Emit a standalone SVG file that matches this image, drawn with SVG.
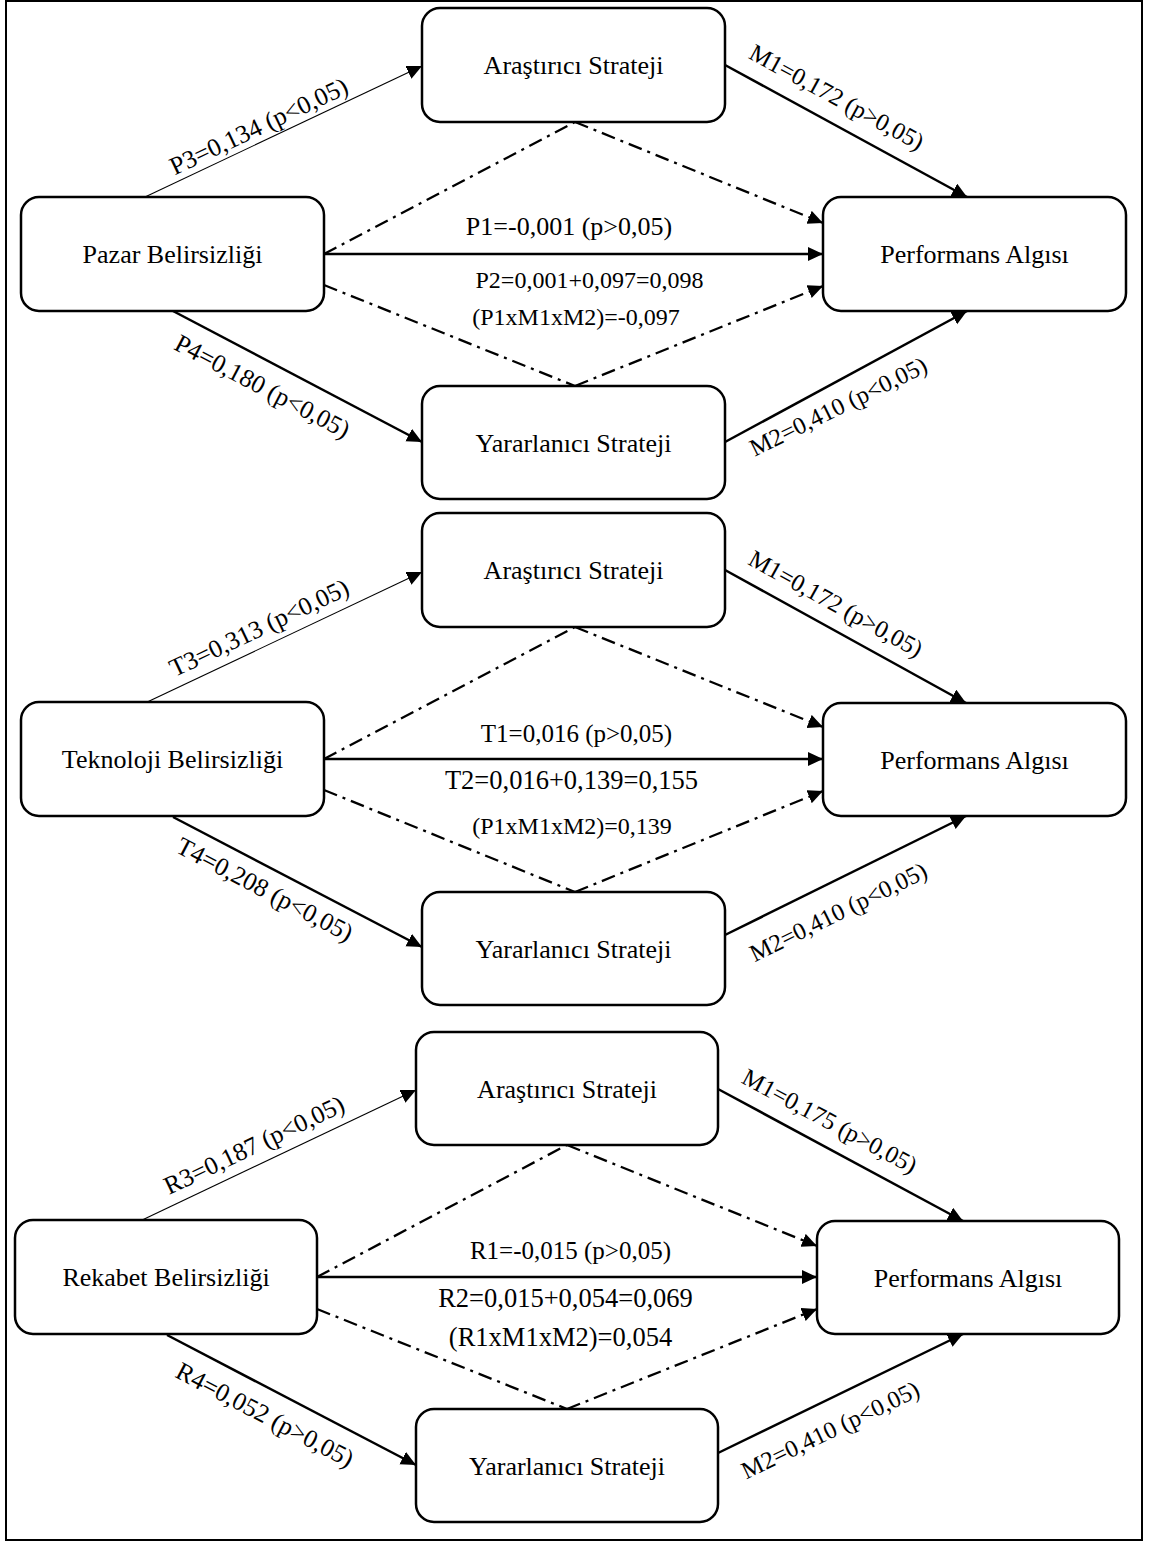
<svg xmlns="http://www.w3.org/2000/svg" width="1150" height="1544" viewBox="0 0 1150 1544">
<defs>
<marker id="ah" markerUnits="userSpaceOnUse" markerWidth="16" markerHeight="15" refX="15" refY="7" orient="auto">
<path d="M0,0 L15,7 L0,14 z" fill="#000"/>
</marker>
<style>
text{font-family:"Liberation Serif","Times New Roman",serif;fill:#000}
.node rect{fill:#fff;stroke:#000;stroke-width:2.5}
.nt{font-size:26px;text-anchor:middle}
.lb{text-anchor:middle}
.thin{stroke:#000;stroke-width:1.1;fill:none}
.thick{stroke:#000;stroke-width:2.5;fill:none}
.dd{stroke:#000;stroke-width:2.3;fill:none;stroke-dasharray:14 6 3 6}
</style>
</defs>
<rect x="6" y="1" width="1136" height="1539" fill="#fff" stroke="#000" stroke-width="2"/>

<g id="connectors">
<!-- section 1 -->
<line class="thin" x1="145" y1="197" x2="422" y2="66" marker-end="url(#ah)"/>
<line class="thick" x1="173" y1="311" x2="422" y2="442" marker-end="url(#ah)"/>
<line class="thick" x1="324" y1="254" x2="823" y2="254" marker-end="url(#ah)"/>
<line class="dd" x1="324" y1="254" x2="575" y2="122"/>
<line class="dd" x1="575" y1="122" x2="823" y2="223" marker-end="url(#ah)"/>
<line class="dd" x1="324" y1="285" x2="575" y2="386"/>
<line class="dd" x1="575" y1="386" x2="823" y2="286" marker-end="url(#ah)"/>
<line class="thick" x1="725" y1="65" x2="967" y2="197" marker-end="url(#ah)"/>
<line class="thick" x1="725" y1="442" x2="967" y2="311" marker-end="url(#ah)"/>
<!-- section 2 -->
<line class="thin" x1="143" y1="704" x2="422" y2="572" marker-end="url(#ah)"/>
<line class="thick" x1="173" y1="817" x2="422" y2="947" marker-end="url(#ah)"/>
<line class="thick" x1="324" y1="759" x2="823" y2="759" marker-end="url(#ah)"/>
<line class="dd" x1="324" y1="759" x2="575" y2="627"/>
<line class="dd" x1="575" y1="627" x2="823" y2="727" marker-end="url(#ah)"/>
<line class="dd" x1="324" y1="790" x2="575" y2="892"/>
<line class="dd" x1="575" y1="892" x2="823" y2="791" marker-end="url(#ah)"/>
<line class="thick" x1="725" y1="570" x2="966" y2="703" marker-end="url(#ah)"/>
<line class="thick" x1="725" y1="935" x2="966" y2="816" marker-end="url(#ah)"/>
<!-- section 3 -->
<line class="thin" x1="138" y1="1222" x2="416" y2="1090" marker-end="url(#ah)"/>
<line class="thick" x1="167" y1="1335" x2="416" y2="1465" marker-end="url(#ah)"/>
<line class="thick" x1="317" y1="1277" x2="817" y2="1277" marker-end="url(#ah)"/>
<line class="dd" x1="317" y1="1277" x2="567" y2="1145"/>
<line class="dd" x1="567" y1="1145" x2="817" y2="1246" marker-end="url(#ah)"/>
<line class="dd" x1="317" y1="1309" x2="567" y2="1409"/>
<line class="dd" x1="567" y1="1409" x2="817" y2="1309" marker-end="url(#ah)"/>
<line class="thick" x1="718" y1="1089" x2="963" y2="1221" marker-end="url(#ah)"/>
<line class="thick" x1="718" y1="1453" x2="963" y2="1334" marker-end="url(#ah)"/>

<!-- labels section 1 -->
<text class="lb" font-size="25.5" transform="rotate(-25.4 262.3 134)" x="262.3" y="134">P3=0,134 (p&lt;0,05)</text>
<text class="lb" font-size="25.5" transform="rotate(27.75 258.4 393.8)" x="258.4" y="393.8">P4=0,180 (p&lt;0,05)</text>
<text class="lb" font-size="24.5" transform="rotate(28.6 832.8 104.3)" x="832.8" y="104.3">M1=0,172 (p&gt;0,05)</text>
<text class="lb" font-size="24.5" transform="rotate(-26.2 841.9 413.9)" x="841.9" y="413.9">M2=0,410 (p&lt;0,05)</text>
<text class="lb" font-size="26" x="569" y="235">P1=-0,001 (p&gt;0,05)</text>
<text class="lb" font-size="24" x="589.5" y="288">P2=0,001+0,097=0,098</text>
<text class="lb" font-size="24" x="576" y="325">(P1xM1xM2)=-0,097</text>
<!-- labels section 2 -->
<text class="lb" font-size="25.5" transform="rotate(-25.4 262.8 635.5)" x="262.8" y="635.5">T3=0,313 (p&lt;0,05)</text>
<text class="lb" font-size="25.5" transform="rotate(27.7 260.9 896.8)" x="260.9" y="896.8">T4=0,208 (p&lt;0,05)</text>
<text class="lb" font-size="24.5" transform="rotate(29 831.8 610.8)" x="831.8" y="610.8">M1=0,172 (p&gt;0,05)</text>
<text class="lb" font-size="24.5" transform="rotate(-26.2 841.9 919.4)" x="841.9" y="919.4">M2=0,410 (p&lt;0,05)</text>
<text class="lb" font-size="25" x="576.5" y="742">T1=0,016 (p&gt;0,05)</text>
<text class="lb" font-size="26.5" x="571.5" y="789">T2=0,016+0,139=0,155</text>
<text class="lb" font-size="24" x="572" y="834">(P1xM1xM2)=0,139</text>
<!-- labels section 3 -->
<text class="lb" font-size="25.5" transform="rotate(-25.5 257.8 1152.7)" x="257.8" y="1152.7">R3=0,187 (p&lt;0,05)</text>
<text class="lb" font-size="25.5" transform="rotate(27.7 261 1422.3)" x="261" y="1422.3">R4=0,052 (p&gt;0,05)</text>
<text class="lb" font-size="24.5" transform="rotate(28.2 825.9 1128.3)" x="825.9" y="1128.3">M1=0,175 (p&gt;0,05)</text>
<text class="lb" font-size="24.5" transform="rotate(-25.7 833.9 1437.4)" x="833.9" y="1437.4">M2=0,410 (p&lt;0,05)</text>
<text class="lb" font-size="25" x="570.5" y="1259">R1=-0,015 (p&gt;0,05)</text>
<text class="lb" font-size="26.5" x="565.5" y="1307">R2=0,015+0,054=0,069</text>
<text class="lb" font-size="26.5" x="560.5" y="1346">(R1xM1xM2)=0,054</text>
</g>

<g id="arastirici-1" class="node"><rect x="422" y="8" width="303" height="114" rx="18"/><text class="nt" x="573.5" y="74">Araştırıcı Strateji</text></g>
<g id="pazar" class="node"><rect x="21" y="197" width="303" height="114" rx="18"/><text class="nt" x="172.5" y="263">Pazar Belirsizliği</text></g>
<g id="performans-1" class="node"><rect x="823" y="197" width="303" height="114" rx="18"/><text class="nt" x="974.5" y="263">Performans Algısı</text></g>
<g id="yararlanici-1" class="node"><rect x="422" y="386" width="303" height="113" rx="18"/><text class="nt" x="573.5" y="451.5">Yararlanıcı Strateji</text></g>

<g id="arastirici-2" class="node"><rect x="422" y="513" width="303" height="114" rx="18"/><text class="nt" x="573.5" y="579">Araştırıcı Strateji</text></g>
<g id="teknoloji" class="node"><rect x="21" y="702" width="303" height="114" rx="18"/><text class="nt" x="172.5" y="768">Teknoloji Belirsizliği</text></g>
<g id="performans-2" class="node"><rect x="823" y="703" width="303" height="113" rx="18"/><text class="nt" x="974.5" y="768.5">Performans Algısı</text></g>
<g id="yararlanici-2" class="node"><rect x="422" y="892" width="303" height="113" rx="18"/><text class="nt" x="573.5" y="957.5">Yararlanıcı Strateji</text></g>

<g id="arastirici-3" class="node"><rect x="416" y="1032" width="302" height="113" rx="18"/><text class="nt" x="567" y="1097.5">Araştırıcı Strateji</text></g>
<g id="rekabet" class="node"><rect x="15" y="1220" width="302" height="114" rx="18"/><text class="nt" x="166" y="1286">Rekabet Belirsizliği</text></g>
<g id="performans-3" class="node"><rect x="817" y="1221" width="302" height="113" rx="18"/><text class="nt" x="968" y="1286.5">Performans Algısı</text></g>
<g id="yararlanici-3" class="node"><rect x="416" y="1409" width="302" height="113" rx="18"/><text class="nt" x="567" y="1474.5">Yararlanıcı Strateji</text></g>
</svg>
